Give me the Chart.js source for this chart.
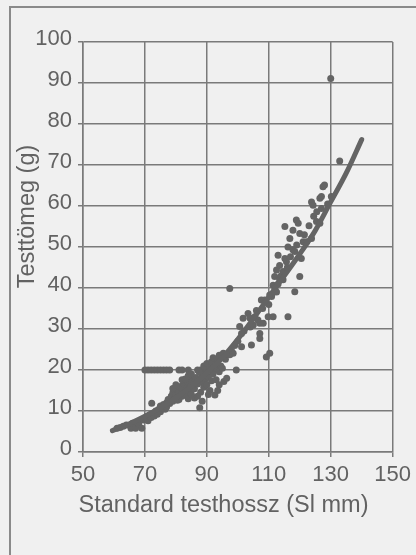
<!DOCTYPE html>
<html>
<head>
<meta charset="utf-8">
<script src="https://cdn.jsdelivr.net/npm/chart.js@4"></script>
<style>
  html, body { margin: 0; padding: 0; background: #f0f0f0; }
  #wrap { position: relative; width: 416px; height: 555px; overflow: hidden; }
  #frame { position: absolute; left: 9px; top: 6px; width: 420px; height: 560px;
           border-top: 2px solid #8a8a8a; border-left: 2px solid #8a8a8a; }
  canvas { position: absolute; left: 0; top: 0; }
</style>
</head>
<body>
<div id="wrap">
  <div id="frame"></div>
  <canvas id="myChart" width="416" height="555"></canvas>
</div>
<script>
// fish: [standard length mm, body mass g]
var rowAt20 = [70, 71, 72, 73, 74, 75, 76, 77, 78, 81, 82, 84, 87, 88, 89.5, 91, 92.5, 99.5];

var lowerBand = [
  [61,5.8],[62,6],[63,6.3],[64,6.6],[65.5,5.8],[66,7],[67,5.8],[67.5,7.3],[68,6.8],[69,5.8],[69.5,7.8],
  [70,8],[70.5,8.6],[71,7.6],[71.5,9],[72,8.4],[72.5,9.4],[73,8.8],[73.5,10],[74,9.2],[74.5,10.4],
  [75,9.8],[75,11.2],[75.5,10.6],[76,11.6],[76.5,10.4],[77,12],[77,11],[77.5,12.8],[78,11.8],[78.5,13.6],
  [79,12.4],[79,14.4],[79.5,13],[80,14],[80.5,12.6],[80.5,15.2],[81,14.6],[81.5,16],[82,13.6],[82,15.4],
  [82.5,16.6],[83,14.2],[83.5,15.6],[84,13],[84,17],[84.5,15],[85,16.2],[85,14],[85.5,17.6],[86,15.4],
  [86.5,18.2],[87,16.6],[88,14.6],[88,18],[88.5,17],[89,19],[89,15.8],[89.5,17.8],[90,16.4],[90,19.8],
  [90.5,18.4],[91,15],[91,20.6],[91.5,17.4],[92,19],[92,21.6],[93,17.6],[93,20.4],[93.5,22.4],[94,16.4],
  [94,19.6],[94.5,21],[95,23.4],[95.3,24.1],[96,22.6],[97,23.8],[97.4,23.7],[98,24.6],[98.5,24.1],[99,26],
  [100,27],[101.2,25.7],[101.2,28.9],[100.6,30.6],[102,29.5],[101.7,32.6],
  [79,15.5],[80,16.4],[81,12.8],[82,17.6],[83,17.8],[84,18.6],[85,19],[86,13.2],[86,16.8],[87,13.6],
  [87.5,19.6],[88.5,12.4],[89,21],[90,21.6],[90.5,14],[91.5,22],[92,23],[93.5,15],[94,23.6],[95,20.4],[95.5,17.2]
];

var upperBand = [
  [103.3,33.8],[103.9,32.7],[104.4,26.1],[104,30.5],[105,31],[105.5,33],[106,34.5],[106.5,32.2],[107.1,28.9],[107.1,27.7],
  [107.1,31.4],[107.6,37.1],[108,35],[108.2,31.4],[108.7,37.1],[109,36.5],[109.8,33],[110,36],[110.3,38.3],[110.9,37.9],
  [111,38.5],[111.4,40.7],[111.4,33],[111.9,42.8],[112,40],[112.5,44.4],[113,48],[113,41],[113.5,42],[114,43],
  [114.6,44],[114.6,42],[115.2,47.2],[115.7,46.4],[115.2,55],[116.2,50],[116.8,52.1],[117.8,54.1],[117.8,49.3],[118.4,48.9],
  [118.9,56.6],[119.5,55.8],[120,53.3],[120.5,47.2],[121.1,51.3],[122.2,51.3],[123.8,52.1],[123.8,61],[124.3,60.2],[125.4,56.2],
  [126.5,61.9],[126.5,55.8],[127,59.4],[127,62.3],[127.5,64.7],[128,65.1],[130.2,62.3],
  [112.5,39],[113.5,45.5],[116,45],[117,47.6],[119,50.5],[121.5,53],[123,55.2],[124.5,57.5],[125.5,58.6],[129,60.5]
];

var outliers = [
  [87.7,10.8],[72.2,11.9],[92.6,13.9],[96.4,18],[97.4,39.9],[109.2,23.2],
  [110.3,24.1],[116.2,33],[118.4,39.1],[120,42.8],[130,91.1],[132.9,71]
];

// fitted curve, read at a few lengths
var curveLength = [59.5, 65, 70, 75, 80, 85, 90, 95, 100, 105, 110, 115, 120, 125, 130, 135, 140];
var curveMass   = [5.2, 6.9, 8.7, 10.8, 13.2, 16, 19.3, 23, 27.5, 32.5, 37.8, 43, 48.3, 54, 61, 68, 76.2];

var xTicks = [50, 70, 90, 110, 130, 150];
var xTitle = 'Standard testhossz (Sl mm)';
var yTitle = 'Testtömeg (g)';

var fishPoints = [];
rowAt20.forEach(function (l) { fishPoints.push({x: l, y: 20}); });
lowerBand.concat(upperBand, outliers).forEach(function (p) { fishPoints.push({x: p[0], y: p[1]}); });

var curvePoints = curveLength.map(function (l, i) { return {x: l, y: curveMass[i]}; });

var ink = '#646464';
var gridInk = '#7a7a7a';
var textInk = '#626262';
var fontFamily = '"Liberation Sans", Arial, sans-serif';

// axis titles drawn where the original puts them
var axisTitles = {
  id: 'axisTitles',
  afterDraw: function (chart) {
    var c = chart.ctx;
    c.save();
    c.fillStyle = textInk;
    c.font = '23.5px ' + fontFamily;
    c.textAlign = 'center';
    c.textBaseline = 'middle';
    c.fillText(xTitle, 223.5, 505.5);
    c.translate(28, 216.5);
    c.rotate(-Math.PI / 2);
    c.fillText(yTitle, 0, 0);
    c.restore();
  }
};

var ctx = document.getElementById('myChart').getContext('2d');
var myChart = new Chart(ctx, {
  type: 'scatter',
  data: {
    datasets: [{
      type: 'line',
      data: curvePoints,
      borderColor: ink,
      borderWidth: 5,
      borderCapStyle: 'round',
      cubicInterpolationMode: 'monotone',
      pointRadius: 0,
      fill: false
    }, {
      data: fishPoints,
      backgroundColor: ink,
      borderWidth: 0,
      pointRadius: 3.5
    }]
  },
  options: {
    responsive: false,
    animation: false,
    events: [],
    layout: { padding: { left: 0, top: 42, right: 23, bottom: 0 } },
    plugins: {
      legend: { display: false },
      tooltip: { enabled: false }
    },
    scales: {
      x: {
        type: 'linear',
        min: 50,
        max: 150,
        afterBuildTicks: function (axis) { axis.ticks = xTicks.map(function (v) { return {value: v}; }); },
        afterFit: function (axis) { axis.height = 103; },
        grid: { color: gridInk, lineWidth: 1.5, tickLength: 5, tickColor: gridInk },
        border: { color: gridInk, width: 1.5 },
        ticks: { color: textInk, padding: 5, maxRotation: 0, font: { family: fontFamily, size: 22 } }
      },
      y: {
        min: 0,
        max: 100,
        afterFit: function (axis) { axis.width = 83; },
        grid: { color: gridInk, lineWidth: 1.5, tickLength: 5, tickColor: gridInk },
        border: { color: gridInk, width: 1.5 },
        ticks: { stepSize: 10, color: textInk, padding: 6, labelOffset: -3, font: { family: fontFamily, size: 22 } }
      }
    }
  },
  plugins: [axisTitles]
});
</script>
</body>
</html>
